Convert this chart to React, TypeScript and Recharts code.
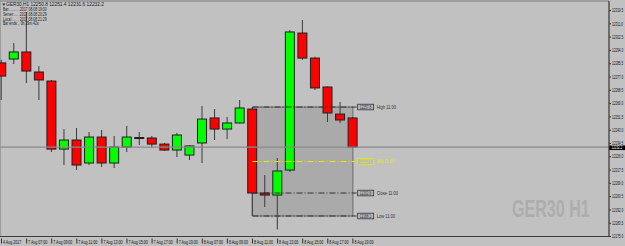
import { Bar, ComposedChart, ReferenceArea, ReferenceLine, XAxis, YAxis } from "recharts";

// bar times (H1), first bar is the last one of Friday
const times = [
  "4 Aug 2017",
  "7 Aug 06:00", "7 Aug 07:00", "7 Aug 08:00", "7 Aug 09:00", "7 Aug 10:00", "7 Aug 11:00", "7 Aug 12:00",
  "7 Aug 13:00", "7 Aug 14:00", "7 Aug 15:00", "7 Aug 16:00", "7 Aug 17:00", "7 Aug 18:00", "7 Aug 19:00",
  "8 Aug 06:00", "8 Aug 07:00", "8 Aug 08:00", "8 Aug 09:00", "8 Aug 10:00", "8 Aug 11:00", "8 Aug 12:00",
  "8 Aug 13:00", "8 Aug 14:00", "8 Aug 15:00", "8 Aug 16:00", "8 Aug 17:00", "8 Aug 18:00", "8 Aug 19:00",
];
const opens = [
  12286.0, 12288.5, 12293.0, 12280.2, 12274.4, 12230.9, 12236.7, 12222.0, 12238.6, 12222.0,
  12232.2, 12238.3, 12238.0, 12234.1, 12230.3, 12227.1, 12234.8, 12250.8, 12243.7, 12247.6,
  12256.5, 12202.8, 12201.5, 12217.5, 12305.1, 12289.1, 12270.6, 12253.3, 12250.8,
];
const highs = [
  12288.0, 12298.7, 12318.5, 12284.0, 12275.0, 12243.7, 12244.4, 12241.8, 12243.1, 12239.3,
  12245.7, 12241.8, 12239.3, 12234.8, 12241.2, 12233.5, 12258.4, 12256.5, 12251.4, 12262.3,
  12257.8, 12214.3, 12225.2, 12307.0, 12313.4, 12290.0, 12271.0, 12261.0, 12251.4,
];
const lows = [
  12262.3, 12285.3, 12273.1, 12262.3, 12229.0, 12220.7, 12217.5, 12220.7, 12219.5, 12218.8,
  12229.0, 12233.5, 12231.6, 12229.7, 12225.8, 12223.9, 12222.0, 12236.7, 12237.3, 12247.3,
  12188.1, 12193.9, 12179.5, 12216.2, 12288.0, 12268.7, 12248.2, 12247.6, 12231.6,
];
const closes = [
  12277.6, 12293.0, 12280.8, 12275.1, 12230.9, 12236.7, 12220.7, 12238.6, 12222.0, 12232.2,
  12238.6, 12238.0, 12234.1, 12230.3, 12239.9, 12232.9, 12250.1, 12243.7, 12247.6, 12257.2,
  12202.8, 12201.5, 12216.9, 12305.8, 12289.1, 12270.0, 12254.0, 12249.5, 12232.2,
];
const priceTicks = [
  12175.0, 12183.5, 12192.0, 12200.5, 12209.0, 12217.5, 12226.0, 12234.5, 12243.0,
  12251.5, 12260.0, 12268.5, 12277.0, 12285.5, 12294.0, 12302.5, 12311.0, 12319.5,
];
const timeTicks = [0, 2, 4, 6, 8, 10, 12, 14, 16, 18, 20, 22, 24, 26, 28];

const LEVEL_BAR = 20; // the 11:00 bar whose levels are marked
const BG = "#c1c1c1";
const FONT = "'Liberation Sans', Arial, sans-serif";

const data = times.map((t, i) => ({
  i,
  time: t,
  open: opens[i],
  high: highs[i],
  low: lows[i],
  close: closes[i],
  range: [lows[i], highs[i]],
}));

const last = data[data.length - 1];
const lvl = data[LEVEL_BAR];
const mid = (lvl.high + lvl.low) / 2;

// MT4 draws its tiny labels in a narrow face, squeeze horizontally
function Narrow({ x, y, sx = 0.65, size = 5, fill = "#111", weight, children }: any) {
  return (
    <text
      transform={`translate(${x},${y}) scale(${sx},1)`}
      fontSize={size}
      fontFamily={FONT}
      fontWeight={weight}
      fill={fill}
    >
      {children}
    </text>
  );
}

function Candle(props: any) {
  const { x, y, width, height, payload } = props;
  if (!payload) return null;
  const top = Math.min(y, y + height);
  const h = Math.abs(height);
  const k = h / (payload.high - payload.low);
  const py = (v: number) => top + (payload.high - v) * k;
  const cx = x + width / 2;
  const up = payload.close >= payload.open;
  const bTop = py(Math.max(payload.open, payload.close));
  const bH = Math.max(1, Math.abs(py(payload.open) - py(payload.close)));
  return (
    <g>
      <line x1={cx} x2={cx} y1={top} y2={top + h} stroke="#3a3a3a" strokeWidth={1} />
      <rect
        x={x + 0.5}
        y={bTop}
        width={width - 1}
        height={bH}
        fill={up ? "#00ff00" : "#ff0000"}
        stroke="#202020"
        strokeWidth={1}
      />
    </g>
  );
}

function DateTick(props: any) {
  const { x, y, payload } = props;
  return (
    <g>
      <line x1={x} x2={x} y1={y + 2} y2={y + 7} stroke="#333" strokeWidth={1} />
      <Narrow x={x + 1.5} y={y + 7.5} sx={0.72}>
        {times[payload.value]}
      </Narrow>
    </g>
  );
}

function PriceTick(props: any) {
  const { x, y, payload } = props;
  return (
    <Narrow x={x} y={y + 1.7} sx={0.62}>
      {Number(payload.value).toFixed(1)}
    </Narrow>
  );
}

function LevelTag(props: any) {
  const { viewBox, price, name, color, fill } = props;
  if (!viewBox) return null;
  const bx = viewBox.x + viewBox.width + 1;
  const cy = viewBox.y;
  return (
    <g>
      <rect x={bx} y={cy - 2.8} width={16} height={5.6} fill={fill} stroke={color} strokeWidth={0.8} />
      <Narrow x={bx + 2} y={cy + 1.7} sx={0.7} size={4.6} fill={color}>
        {price.toFixed(1)}
      </Narrow>
      <Narrow x={bx + 19} y={cy + 1.7} sx={0.85} size={4.8} fill={color}>
        {name}
      </Narrow>
    </g>
  );
}

function BidTag(props: any) {
  const { viewBox } = props;
  if (!viewBox) return null;
  const x = viewBox.x + viewBox.width;
  return (
    <g>
      <rect x={x} y={viewBox.y - 1.6} width={16} height={4.6} fill="#000" />
      <Narrow x={x + 2.5} y={viewBox.y + 2.2} sx={0.66} size={4.5} fill="#fff">
        {last.close.toFixed(1)}
      </Narrow>
    </g>
  );
}

export default function App() {
  const levels = [
    { price: lvl.high, name: "High 11:00", color: "#333333", fill: "#b8b8b8" },
    { price: mid, name: "Mid 11:00", color: "#e8e800", fill: "#b8b8b8" },
    { price: lvl.close, name: "Close 11:00", color: "#333333", fill: "#b8b8b8" },
    { price: lvl.low, name: "Low 11:00", color: "#333333", fill: "#b8b8b8" },
  ];

  return (
    <div style={{ position: "relative", width: 625, height: 246, background: BG }}>
      <style>{`body{margin:0}`}</style>
      <ComposedChart
        width={625}
        height={246}
        data={data}
        margin={{ top: 1, right: 0, bottom: 0, left: 0 }}
      >
        <XAxis
          type="number"
          dataKey="i"
          domain={[-0.12, 48.41]}
          allowDataOverflow
          ticks={timeTicks}
          interval={0}
          tick={<DateTick />}
          tickLine={false}
          tickSize={0}
          tickMargin={0}
          height={9.5}
          axisLine={{ stroke: "#3c3c3c" }}
        />
        <YAxis
          orientation="right"
          domain={[12175, 12325.6]}
          allowDataOverflow
          ticks={priceTicks}
          interval={0}
          width={16}
          tickSize={2}
          tickMargin={1}
          tick={<PriceTick />}
          tickLine={{ stroke: "#333" }}
          axisLine={{ stroke: "#3c3c3c" }}
        />
        <ReferenceArea
          x1={-0.12}
          x2={48.41}
          y1={12175}
          y2={12325.6}
          fill="none"
          stroke="#7a7a7a"
          strokeWidth={1}
        />
        <ReferenceArea
          x1={LEVEL_BAR}
          x2={data.length - 1}
          y1={lvl.low}
          y2={lvl.high}
          fill="#aaaaaa"
          fillOpacity={1}
          stroke="#6a6a6a"
          strokeWidth={1}
        />
        <ReferenceLine y={last.close} stroke="#8a8a8a" strokeWidth={1.3} label={<BidTag />} />
        {levels.map((l) => (
          <ReferenceLine
            key={l.name}
            segment={[
              { x: LEVEL_BAR, y: l.price },
              { x: data.length - 0.7, y: l.price },
            ]}
            stroke={l.color}
            strokeDasharray="6 2 1 2"
            strokeWidth={1}
            label={<LevelTag price={l.price} name={l.name} color={l.color} fill={l.fill} />}
          />
        ))}
        <Bar dataKey="range" barSize={10} shape={<Candle />} isAnimationActive={false} />
      </ComposedChart>
      <svg
        width={625}
        height={246}
        style={{ position: "absolute", left: 0, top: 0, pointerEvents: "none" }}
      >
        <g>
          <Narrow x={1.5} y={5.5} sx={1} size={4.5} fill="#1a1a1a">▼</Narrow>
          <Narrow x={6} y={5.5} sx={1} size={4.8} fill="#1a1a1a">
            {`GER30,H1  ${last.open.toFixed(1)} ${last.high.toFixed(1)} ${last.low.toFixed(1)} ${last.close.toFixed(1)}`}
          </Narrow>
          <Narrow x={3} y={11} sx={0.72} size={4.8} fill="#1a1a1a">Bar:.......... 2017.08.08 19:00</Narrow>
          <Narrow x={3} y={15.8} sx={0.72} size={4.8} fill="#1a1a1a">Server:..... 2017.08.08 20:29</Narrow>
          <Narrow x={3} y={20.6} sx={0.72} size={4.8} fill="#1a1a1a">Local:....... 2017.08.08 21:29</Narrow>
          <Narrow x={3} y={25.4} sx={0.72} size={4.8} fill="#1a1a1a">Bar ends:.. 0h 29m 42s</Narrow>
        </g>
        <Narrow x={512} y={217} sx={0.67} size={24} weight="bold" fill="#adadad">
          GER30 H1
        </Narrow>
      </svg>
    </div>
  );
}
